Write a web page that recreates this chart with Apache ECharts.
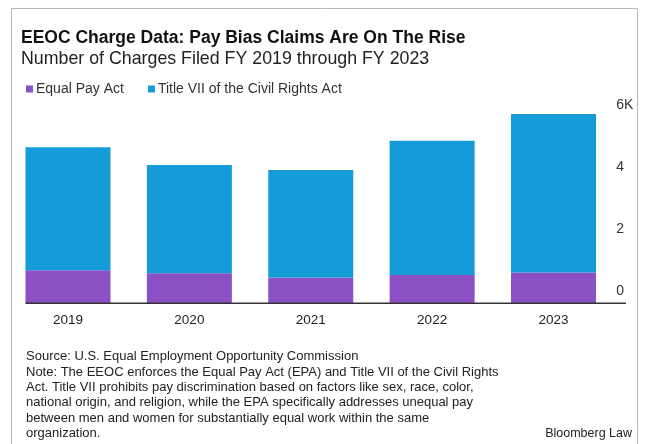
<!DOCTYPE html>
<html>
<head>
<meta charset="utf-8">
<script src="https://cdn.jsdelivr.net/npm/echarts@6/dist/echarts.min.js"></script>
<style>
  html, body { margin: 0; padding: 0; background: #fff; }
  #chart { width: 650px; height: 444px; }
</style>
</head>
<body>
<div id="chart"></div>
<script>
// EEOC charges filed, FY 2019 - FY 2023 (counts)
const years = ['2019', '2020', '2021', '2022', '2023'];
const equalPayAct = [1070, 970, 830, 910, 990];
const titleVII = [3960, 3490, 3470, 4330, 5120];
const yTickLabels = { 0: '0', 2000: '2', 4000: '4', 6000: '6K' };

const FONT = '"Liberation Sans", Arial, sans-serif';
const PURPLE = '#8a50c4';
const BLUE = '#169bd9';

const footnote = [
  'Source: U.S. Equal Employment Opportunity Commission',
  'Note: The EEOC enforces the Equal Pay Act (EPA) and Title VII of the Civil Rights',
  'Act. Title VII prohibits pay discrimination based on factors like sex, race, color,',
  'national origin, and religion, while the EPA specifically addresses unequal pay',
  'between men and women for substantially equal work within the same',
  'organization.'
].join('\n');

const chart = echarts.init(document.getElementById('chart'), null, { renderer: 'canvas' });

const option = {
  backgroundColor: '#fff',
  animation: false,
  textStyle: { fontFamily: FONT },
  title: [
    {
      text: 'EEOC Charge Data: Pay Bias Claims Are On The Rise',
      left: 21, top: 29, padding: 0,
      textStyle: { fontFamily: FONT, fontSize: 17.5, fontWeight: 'bold', color: '#111' }
    },
    {
      text: 'Number of Charges Filed FY 2019 through FY 2023',
      left: 21, top: 50, padding: 0,
      textStyle: { fontFamily: FONT, fontSize: 17.8, fontWeight: 'normal', color: '#222' }
    },
    {
      text: footnote,
      left: 26, top: 349, padding: 0,
      textStyle: { fontFamily: FONT, fontSize: 13, fontWeight: 'normal', color: '#222', lineHeight: 15.4 }
    },
    {
      text: 'Bloomberg Law',
      right: 18, top: 427, padding: 0,
      textStyle: { fontFamily: FONT, fontSize: 12.5, fontWeight: 'normal', color: '#222' }
    }
  ],
  legend: {
    left: 26, top: 82, padding: 0,
    itemWidth: 7, itemHeight: 7, itemGap: 24,
    icon: 'rect',
    textStyle: { fontFamily: FONT, fontSize: 14, color: '#333', padding: [0, 0, 0, -2] },
    data: ['Equal Pay Act', 'Title VII of the Civil Rights Act']
  },
  grid: { left: 7.3, right: 35.8, top: 101.8, bottom: 140.7, containLabel: false },
  xAxis: {
    type: 'category',
    data: years,
    axisLine: { show: false },
    axisTick: { show: false },
    axisLabel: { margin: 10, fontSize: 13.5, color: '#222', fontFamily: FONT }
  },
  yAxis: {
    type: 'value',
    position: 'right',
    min: 0, max: 6500, interval: 2000,
    splitLine: { show: false },
    axisLine: { show: false },
    axisTick: { show: false },
    axisLabel: {
      margin: 2, fontSize: 14, color: '#333', fontFamily: FONT,
      verticalAlign: 'bottom', padding: [0, 0, 5, 0],
      formatter: v => (v in yTickLabels ? yTickLabels[v] : '')
    }
  },
  series: [
    {
      name: 'Equal Pay Act', type: 'bar', stack: 'charges',
      barWidth: 85, itemStyle: { color: PURPLE },
      data: equalPayAct
    },
    {
      name: 'Title VII of the Civil Rights Act', type: 'bar', stack: 'charges',
      barWidth: 85, itemStyle: { color: BLUE },
      data: titleVII
    }
  ]
};

chart.setOption(option);

// Baseline at zero, running from the first bar out under the value labels,
// plus the thin frame around the whole graphic.
const zeroY = chart.convertToPixel({ yAxisIndex: 0 }, 0);
const firstBarLeft = chart.convertToPixel({ xAxisIndex: 0 }, years[0]) - 85 / 2;
chart.setOption({
  graphic: [
    {
      type: 'rect', silent: true, z: -1,
      shape: { x: 11.5, y: 8.5, width: 626, height: 445 },
      style: { fill: 'none', stroke: '#b8b8b8', lineWidth: 1 }
    },
    {
      type: 'line', silent: true, z: 10,
      shape: { x1: firstBarLeft, y1: zeroY, x2: 626, y2: zeroY },
      style: { stroke: '#333', lineWidth: 1.5 }
    }
  ]
});
</script>
</body>
</html>
